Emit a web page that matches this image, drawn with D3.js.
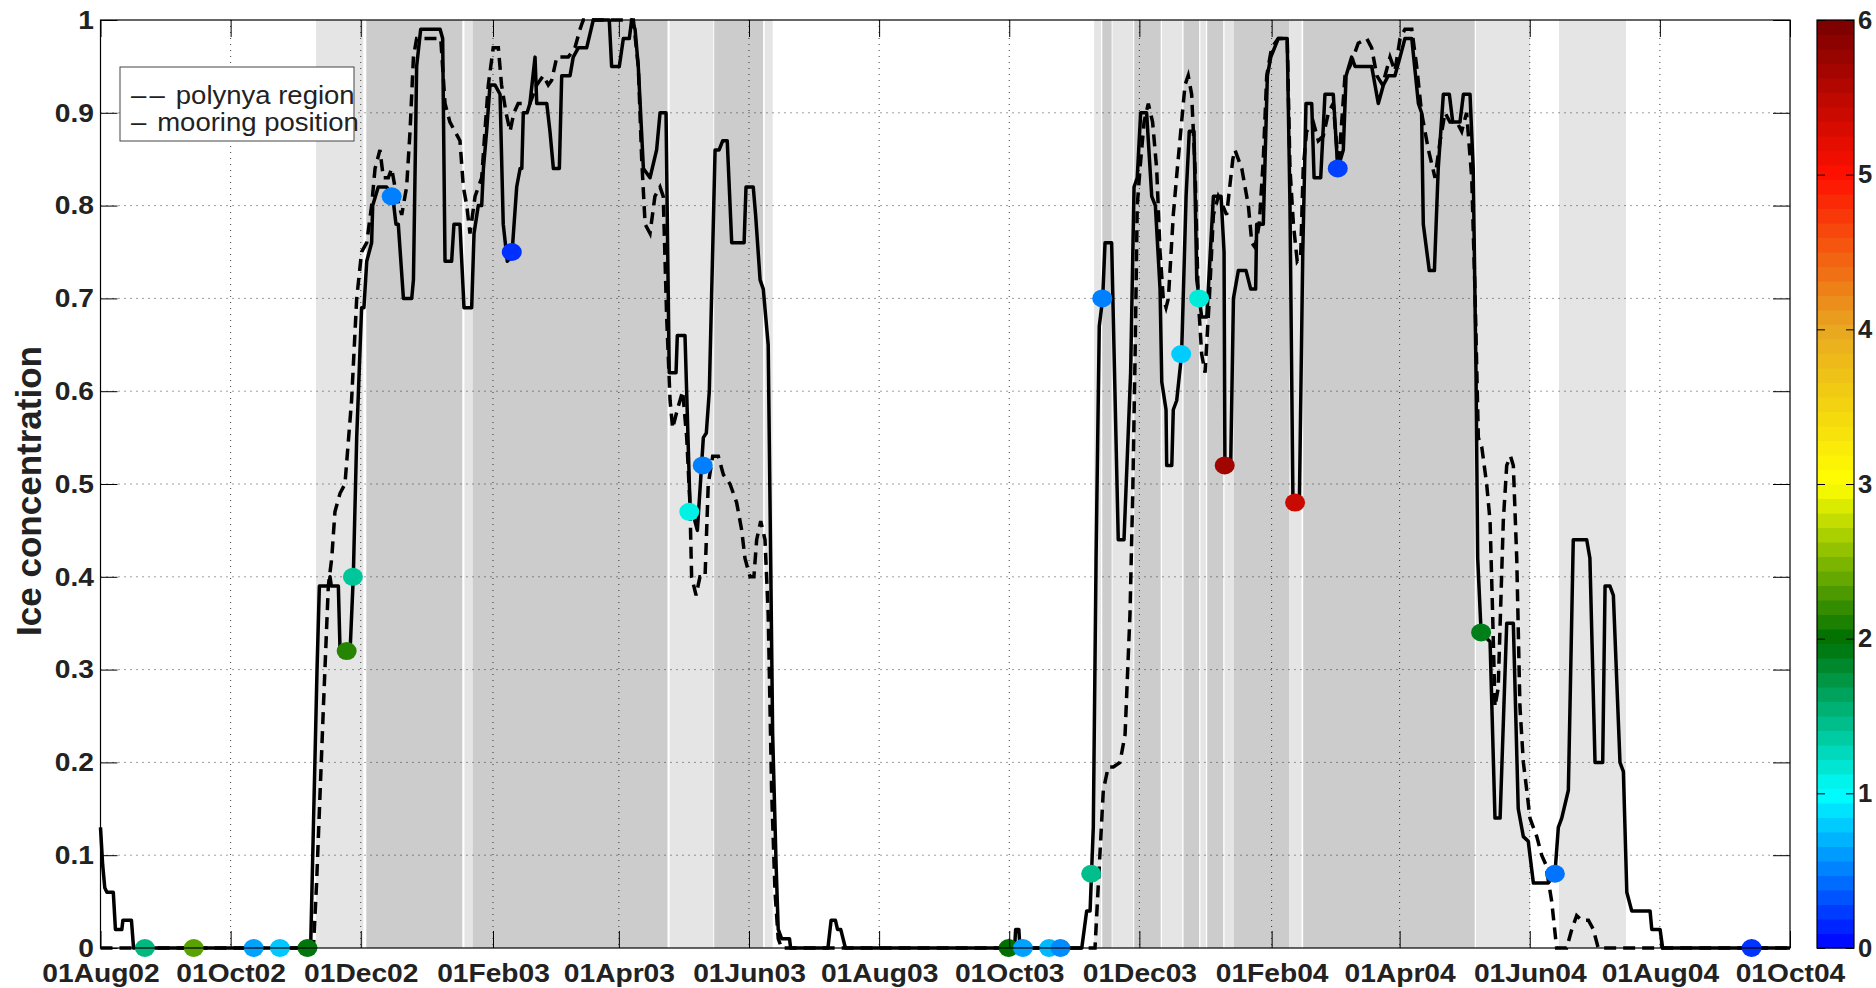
<!DOCTYPE html>
<html>
<head>
<meta charset="utf-8">
<script src="https://cdn.jsdelivr.net/npm/d3@7"></script>
<style>
  body { margin: 0; background: #fff; }
  svg { display: block; font-family: "Liberation Sans", Arial, sans-serif; }
</style>
</head>
<body>
<script>
// days counted from 01Aug02
const startDate = Date.UTC(2002, 7, 1)

// solid line : mooring position
const mooringDay = [0, 1, 2, 3, 6, 7, 10, 10.5, 14.5, 15.5, 98.5, 100, 101.5, 102.6, 107, 107.6, 108.2, 111.5, 112.3, 117, 118.5, 120.1, 122.4, 123.5, 124.8, 127.1, 127.6, 130.2, 134.1, 137, 138.5, 139.6, 142, 145.9, 146.7, 148.2, 150.1, 159.2, 160.4, 161.5, 164.6, 165.7, 168.5, 170.4, 174, 175.1, 177.1, 178.7, 179.5, 181, 182.6, 184.9, 187.3, 188.8, 190.7, 192.8, 195.1, 196.7, 197.5, 198.2, 200, 201.3, 203.7, 204.5, 209.2, 210.7, 212.3, 215.1, 216.2, 220.1, 221.6, 224, 227.9, 231, 238.5, 239.6, 243.2, 245.1, 247.9, 249, 250.6, 252.1, 254.5, 257.6, 260.7, 262.3, 265.1, 266.6, 269.8, 270.4, 274, 276.3, 279.8, 282.6, 284, 285.4, 288.1, 290, 291.7, 293.8, 295.9, 301.7, 302.6, 306, 307.1, 309.2, 310.7, 313, 313.8, 315.1, 316.7, 317.7, 319.3, 323, 323.5, 341, 342.5, 344.5, 345.5, 347, 349.2, 428.5, 429, 430.5, 431, 460, 462.3, 463.9, 465.4, 466.7, 468.2, 469.8, 470.9, 474, 477.1, 479.8, 482.9, 484.5, 486, 487.6, 490.4, 492.8, 494.5, 496.7, 497.5, 499.5, 499.8, 502.2, 502.9, 504.5, 506.8, 508.9, 510.4, 512.6, 513.9, 515.1, 516.2, 518.6, 521.7, 525.3, 526.7, 527.1, 529.8, 531.1, 533.4, 537, 539.2, 541.5, 542, 545.1, 547, 548.6, 552.1, 556.3, 557.6, 559, 562, 563.6, 565.1, 567.8, 568.9, 572, 574, 577.9, 580, 582.6, 583.9, 586.5, 588.1, 595.9, 599, 601.4, 603.7, 606.8, 609.2, 611.5, 614.7, 617.8, 619.3, 620.1, 622.9, 625.3, 627.1, 629.5, 632.3, 633.9, 637.3, 638.9, 642, 643.5, 644.8, 645.6, 647.2, 651.4, 653.7, 656.1, 659.2, 662.3, 664.6, 667, 669.3, 671.7, 678.7, 681.8, 683.4, 685, 688.1, 690.4, 696.7, 698.2, 700.6, 704.2, 705.3, 707.6, 709.2, 712.3, 713.9, 715.5, 717.8, 726.4, 727.2, 731.1, 732.3, 792]
const mooringConc = [0.13, 0.09, 0.065, 0.06, 0.06, 0.02, 0.02, 0.03, 0.03, 0, 0, 0.15, 0.3, 0.39, 0.39, 0.40, 0.39, 0.39, 0.32, 0.32, 0.40, 0.55, 0.69, 0.69, 0.74, 0.76, 0.80, 0.82, 0.82, 0.81, 0.78, 0.78, 0.70, 0.70, 0.72, 0.95, 0.99, 0.99, 0.98, 0.74, 0.74, 0.78, 0.78, 0.69, 0.69, 0.77, 0.80, 0.80, 0.84, 0.88, 0.93, 0.93, 0.92, 0.78, 0.74, 0.745, 0.82, 0.84, 0.84, 0.90, 0.90, 0.91, 0.96, 0.91, 0.91, 0.88, 0.84, 0.84, 0.94, 0.94, 0.96, 0.97, 0.97, 1.0, 1.0, 0.95, 0.95, 0.98, 0.98, 1.0, 0.99, 0.95, 0.84, 0.83, 0.86, 0.90, 0.90, 0.62, 0.62, 0.66, 0.66, 0.48, 0.45, 0.55, 0.555, 0.60, 0.86, 0.86, 0.87, 0.87, 0.76, 0.76, 0.82, 0.82, 0.79, 0.72, 0.71, 0.65, 0.49, 0.23, 0.09, 0.02, 0.01, 0.01, 0, 0, 0.03, 0.03, 0.02, 0.02, 0, 0, 0.02, 0.02, 0, 0, 0.04, 0.04, 0.13, 0.42, 0.67, 0.70, 0.76, 0.76, 0.44, 0.44, 0.62, 0.82, 0.83, 0.90, 0.90, 0.81, 0.80, 0.71, 0.61, 0.58, 0.52, 0.52, 0.58, 0.59, 0.64, 0.81, 0.88, 0.88, 0.72, 0.70, 0.68, 0.68, 0.81, 0.81, 0.75, 0.52, 0.52, 0.70, 0.73, 0.73, 0.71, 0.71, 0.78, 0.78, 0.94, 0.96, 0.98, 0.98, 0.80, 0.48, 0.48, 0.75, 0.91, 0.91, 0.83, 0.83, 0.92, 0.92, 0.84, 0.86, 0.94, 0.96, 0.95, 0.95, 0.91, 0.93, 0.94, 0.94, 0.96, 0.98, 0.98, 0.91, 0.90, 0.78, 0.73, 0.73, 0.84, 0.92, 0.92, 0.89, 0.89, 0.92, 0.92, 0.84, 0.62, 0.42, 0.34, 0.33, 0.14, 0.14, 0.35, 0.35, 0.15, 0.12, 0.115, 0.07, 0.07, 0.08, 0.13, 0.14, 0.17, 0.44, 0.44, 0.42, 0.20, 0.20, 0.39, 0.39, 0.38, 0.20, 0.19, 0.06, 0.04, 0.04, 0.02, 0.02, 0, 0]

// dashed line : polynya region
const polynyaDay = [0, 99.8, 101.3, 104.5, 106.8, 108.4, 109.9, 112.3, 114.6, 117.7, 120.1, 122.4, 124.8, 127.1, 128.7, 131, 132.6, 134.9, 136.5, 138.8, 141.2, 143.5, 145.1, 146.7, 148.2, 159.5, 161.5, 163.8, 168.5, 170.1, 171.7, 173.2, 175.6, 178.7, 180.2, 181.8, 184.1, 186.5, 188, 190.1, 192, 193.8, 195.8, 198.2, 201.3, 204.5, 207.6, 209.9, 211.5, 213.9, 219.3, 222.4, 224.8, 226.3, 249.8, 252.1, 253.7, 255.3, 257.6, 259.9, 262.3, 263.8, 265.4, 267, 268.2, 270.4, 272.9, 274.8, 276.3, 277.1, 279.2, 281, 283.4, 284.9, 287, 289.6, 292, 295.1, 298.2, 300.6, 302.1, 304.5, 306.3, 307.6, 309.5, 311.5, 313, 314.6, 316.2, 317.7, 319.3, 466.2, 467.8, 470.1, 472.4, 474.8, 477.9, 480.3, 482.6, 483.9, 485, 486, 487.3, 489.2, 491.2, 493.2, 495.1, 496.7, 498.2, 499.5, 500.6, 502.9, 504.8, 506.8, 508.4, 509.9, 511.5, 513.1, 514.6, 516.2, 517.8, 519.8, 521.7, 524, 526.1, 527.9, 530.8, 531.8, 535, 538.1, 539.7, 541.2, 543.2, 545.1, 546.7, 549, 552.1, 556.3, 557.6, 559.2, 561, 562.6, 563.8, 565.4, 568.5, 570.9, 573.2, 575.6, 577.9, 580.3, 583.4, 585.7, 589.6, 593.6, 595.9, 598.3, 601, 604.5, 606.8, 609.2, 611.5, 614.7, 617, 619.3, 622.5, 625.6, 628, 630.3, 632.6, 635.8, 638.1, 640.4, 642.8, 644.3, 645.9, 647.5, 649.8, 651.4, 652.6, 653.7, 655.2, 657.6, 659.2, 661, 662.3, 663.9, 665.4, 667, 668.6, 670.1, 673.3, 675.6, 677.5, 680.3, 682.6, 687.3, 689.7, 692, 694.3, 697.5, 699.8, 702.1, 792]
const polynyaConc = [0, 0, 0.07, 0.26, 0.39, 0.42, 0.47, 0.49, 0.50, 0.59, 0.70, 0.75, 0.76, 0.80, 0.84, 0.86, 0.83, 0.83, 0.84, 0.81, 0.79, 0.82, 0.88, 0.96, 0.98, 0.98, 0.91, 0.89, 0.87, 0.82, 0.80, 0.77, 0.81, 0.83, 0.88, 0.93, 0.97, 0.97, 0.93, 0.90, 0.88, 0.90, 0.91, 0.91, 0.91, 0.93, 0.94, 0.93, 0.935, 0.96, 0.96, 0.97, 0.99, 1.0, 1.0, 0.95, 0.85, 0.78, 0.77, 0.81, 0.82, 0.81, 0.68, 0.59, 0.56, 0.58, 0.60, 0.55, 0.48, 0.40, 0.38, 0.40, 0.40, 0.50, 0.53, 0.53, 0.51, 0.50, 0.48, 0.45, 0.42, 0.40, 0.40, 0.44, 0.46, 0.44, 0.36, 0.17, 0.06, 0.01, 0, 0, 0.07, 0.17, 0.195, 0.195, 0.20, 0.23, 0.36, 0.49, 0.64, 0.80, 0.84, 0.89, 0.91, 0.89, 0.84, 0.75, 0.70, 0.69, 0.70, 0.79, 0.84, 0.89, 0.93, 0.94, 0.92, 0.84, 0.70, 0.64, 0.62, 0.70, 0.79, 0.81, 0.80, 0.79, 0.85, 0.86, 0.84, 0.80, 0.76, 0.755, 0.78, 0.85, 0.94, 0.97, 0.98, 0.98, 0.84, 0.78, 0.74, 0.745, 0.84, 0.88, 0.89, 0.87, 0.875, 0.90, 0.91, 0.84, 0.94, 0.95, 0.975, 0.98, 0.97, 0.94, 0.93, 0.96, 0.945, 0.98, 0.99, 0.99, 0.95, 0.90, 0.86, 0.83, 0.87, 0.90, 0.89, 0.89, 0.88, 0.90, 0.83, 0.71, 0.55, 0.54, 0.50, 0.46, 0.36, 0.26, 0.28, 0.46, 0.52, 0.53, 0.52, 0.42, 0.26, 0.20, 0.17, 0.14, 0.12, 0.10, 0.09, 0.05, 0, 0, 0.02, 0.035, 0.03, 0.03, 0.02, 0, 0]

// coloured events (colour value 0-6)
const eventDay = [20.8, 43.7, 71.8, 84.1, 97, 115.4, 118.3, 136.5, 192.8, 276, 282.3, 425.7, 432.4, 444.7, 450, 464.4, 469.6, 506.6, 515, 527, 560, 580, 647.2, 681.8, 774]
const eventConc = [0, 0, 0, 0, 0, 0.32, 0.40, 0.81, 0.75, 0.47, 0.52, 0, 0, 0, 0, 0.08, 0.70, 0.64, 0.70, 0.52, 0.48, 0.84, 0.34, 0.08, 0]
const eventValue = [1.5, 2.35, 0.63, 0.78, 1.95, 2.15, 1.4, 0.5, 0.19, 1.1, 0.5, 2.0, 0.63, 0.72, 0.55, 1.45, 0.5, 0.8, 1.15, 5.7, 5.4, 0.25, 1.9, 0.45, 0.2]

// shaded periods (1 = light, 2 = dark)
const shadeStart = [101, 124.6, 170.6, 174.5, 266.8, 287.7, 311.4, 465.8, 469.6, 474.4, 484.6, 497.6, 507.7, 515.6, 518.8, 526.9, 531.3, 557.3, 563.8, 644.8, 683.7]
const shadeEnd = [123.2, 169.6, 174.5, 265.8, 287.3, 310.6, 315.1, 469.0, 474.0, 484.1, 497.0, 507.1, 515.0, 518.2, 526.3, 531.3, 557.3, 563.0, 644.2, 670.1, 715.1]
const shadeLevel = [1, 2, 1, 2, 1, 2, 1, 1, 2, 1, 2, 1, 2, 1, 2, 1, 2, 1, 2, 1, 1]

const xTickDates = ['2002-08-01', '2002-10-01', '2002-12-01', '2003-02-01', '2003-04-01', '2003-06-01', '2003-08-01', '2003-10-01', '2003-12-01', '2004-02-01', '2004-04-01', '2004-06-01', '2004-08-01', '2004-10-01']
const yTicks = [0, 0.1, 0.2, 0.3, 0.4, 0.5, 0.6, 0.7, 0.8, 0.9, 1]
const cbTicks = [0, 1, 2, 3, 4, 5, 6]
const cmapStops = [0, 1, 2, 3, 4, 5, 6]
const cmapColors = ['#0000ff', '#00ffff', '#007000', '#ffff00', '#e8a820', '#ff1000', '#780000']

const W = 1876, H = 988
const L = 100.5, R = 1790, T = 20, B = 948
const sx = 1.1  // les textes de la figure sont un peu étirés en largeur
const dayToDate = d => new Date(startDate + d * 864e5)

const svg = d3.select('body').append('svg')
  .attr('width', W)
  .attr('height', H)

const x = d3.scaleUtc()
  .domain([dayToDate(0), dayToDate(792)])
  .range([L, R])
const y = d3.scaleLinear().domain([0, 1]).range([B, T])
const cmap = d3.scaleLinear().domain(cmapStops).range(cmapColors).clamp(true)

// zones grisées
svg.append('g').selectAll('rect')
  .data(shadeStart.map((s, i) => ({ s, e: shadeEnd[i], l: shadeLevel[i] })))
  .enter().append('rect')
    .attr('x', d => x(dayToDate(d.s)))
    .attr('width', d => x(dayToDate(d.e)) - x(dayToDate(d.s)))
    .attr('y', T)
    .attr('height', B - T)
    .attr('fill', d => d.l === 2 ? '#cccccc' : '#e5e5e5')

// grille pointillée
const xTicks = xTickDates.map(s => new Date(s + 'T00:00:00Z'))
const grid = svg.append('g')
  .attr('stroke', '#000')
  .attr('stroke-opacity', 0.75)
  .attr('stroke-width', 1)
  .attr('stroke-dasharray', '1,5')
grid.selectAll('.gx').data(xTicks.slice(1, -1)).enter().append('line')
  .attr('x1', d => x(d)).attr('x2', d => x(d))
  .attr('y1', T).attr('y2', B)
grid.selectAll('.gy').data(yTicks.slice(1, -1)).enter().append('line')
  .attr('y1', d => y(d)).attr('y2', d => y(d))
  .attr('x1', L).attr('x2', R)

// courbes
const line = d3.line()
  .x(d => x(dayToDate(d[0])))
  .y(d => y(d[1]))

svg.append('path')
  .datum(polynyaDay.map((d, i) => [d, polynyaConc[i]]))
  .attr('d', line)
  .attr('fill', 'none')
  .attr('stroke', '#000')
  .attr('stroke-width', 3.5)
  .attr('stroke-dasharray', '12,7')

svg.append('path')
  .datum(mooringDay.map((d, i) => [d, mooringConc[i]]))
  .attr('d', line)
  .attr('fill', 'none')
  .attr('stroke', '#000')
  .attr('stroke-width', 3.5)
  .attr('stroke-linejoin', 'round')

// points colorés
svg.append('g').selectAll('ellipse')
  .data(eventDay.map((d, i) => ({ d, c: eventConc[i], v: eventValue[i] })))
  .enter().append('ellipse')
    .attr('cx', d => x(dayToDate(d.d)))
    .attr('cy', d => y(d.c))
    .attr('rx', 10)
    .attr('ry', 9)
    .attr('fill', d => cmap(d.v))

// axes avec graduations vers l'intérieur
const fmtX = d3.utcFormat('%d%b%y')
const styleText = (g, stretch = sx) => {
  g.selectAll('text')
    .attr('font-size', 25.6)
    .attr('font-weight', 'bold')
    .attr('fill', '#222')
    .attr('transform', `scale(${stretch},1)`)
}

svg.append('g')
  .attr('transform', `translate(0,${B})`)
  .call(d3.axisBottom(x).tickValues(xTicks).tickFormat(fmtX).tickSizeInner(-17).tickSizeOuter(0).tickPadding(16))
  .call(g => g.select('.domain').remove())
  .call(styleText)

svg.append('g')
  .attr('transform', `translate(0,${T})`)
  .call(d3.axisTop(x).tickValues(xTicks).tickFormat('').tickSizeInner(-17).tickSizeOuter(0))
  .call(g => g.select('.domain').remove())

svg.append('g')
  .attr('transform', `translate(${L},0)`)
  .call(d3.axisLeft(y).tickValues(yTicks).tickFormat(d => String(+d.toFixed(1))).tickSizeInner(-17).tickSizeOuter(0).tickPadding(6))
  .call(g => g.select('.domain').remove())
  .call(styleText)

svg.append('g')
  .attr('transform', `translate(${R},0)`)
  .call(d3.axisRight(y).tickValues(yTicks).tickFormat('').tickSizeInner(-17).tickSizeOuter(0))
  .call(g => g.select('.domain').remove())

svg.selectAll('.tick line').attr('stroke', '#000')

svg.append('rect')
  .attr('x', L).attr('y', T)
  .attr('width', R - L).attr('height', B - T)
  .attr('fill', 'none')
  .attr('stroke', '#000')
  .attr('stroke-width', 1.2)

// titre de l'axe y
svg.append('text')
  .attr('transform', 'translate(41,491) rotate(-90)')
  .attr('text-anchor', 'middle')
  .attr('font-size', 35)
  .attr('font-weight', 'bold')
  .attr('fill', '#222')
  .text('Ice concentration')

// légende
const leg = svg.append('g')
leg.append('rect')
  .attr('x', 120).attr('y', 67)
  .attr('width', 234).attr('height', 74)
  .attr('fill', '#fff')
  .attr('stroke', '#444')
  .attr('stroke-width', 1)
const legMark = ['\u2013\u2013', '\u2013']
const legText = [' polynya region', ' mooring position']
legText.forEach((t, i) => {
  const txt = leg.append('text')
    .attr('transform', `translate(131,${104 + i * 27}) scale(${sx},1)`)
    .attr('font-size', 25)
    .attr('fill', '#222')
  txt.append('tspan')
    .attr('letter-spacing', 3)
    .text(legMark[i])
  txt.append('tspan').text(t)
})

// barre de couleur
const cbL = 1817, cbR = 1854
const cy = d3.scaleLinear().domain([0, 6]).range([B, T])
const nCol = 64
svg.append('g').selectAll('rect')
  .data(d3.range(nCol))
  .enter().append('rect')
    .attr('x', cbL)
    .attr('width', cbR - cbL)
    .attr('y', i => cy((i + 1) * 6 / nCol))
    .attr('height', i => cy(i * 6 / nCol) - cy((i + 1) * 6 / nCol) + 0.5)
    .attr('fill', i => cmap((i + 0.5) * 6 / nCol))

svg.append('g')
  .attr('transform', `translate(${cbR},0)`)
  .call(d3.axisRight(cy).tickValues(cbTicks).tickFormat(d3.format('d')).tickSizeInner(-8).tickSizeOuter(0).tickPadding(4))
  .call(g => g.select('.domain').remove())
  .call(g => styleText(g, 1))
svg.append('g')
  .attr('transform', `translate(${cbL},0)`)
  .call(d3.axisLeft(cy).tickValues(cbTicks).tickFormat('').tickSizeInner(-8).tickSizeOuter(0))
  .call(g => g.select('.domain').remove())
svg.selectAll('.tick line').attr('stroke', '#000')

svg.append('rect')
  .attr('x', cbL).attr('y', T)
  .attr('width', cbR - cbL).attr('height', B - T)
  .attr('fill', 'none')
  .attr('stroke', '#000')
  .attr('stroke-width', 1.2)
</script>
</body>
</html>
